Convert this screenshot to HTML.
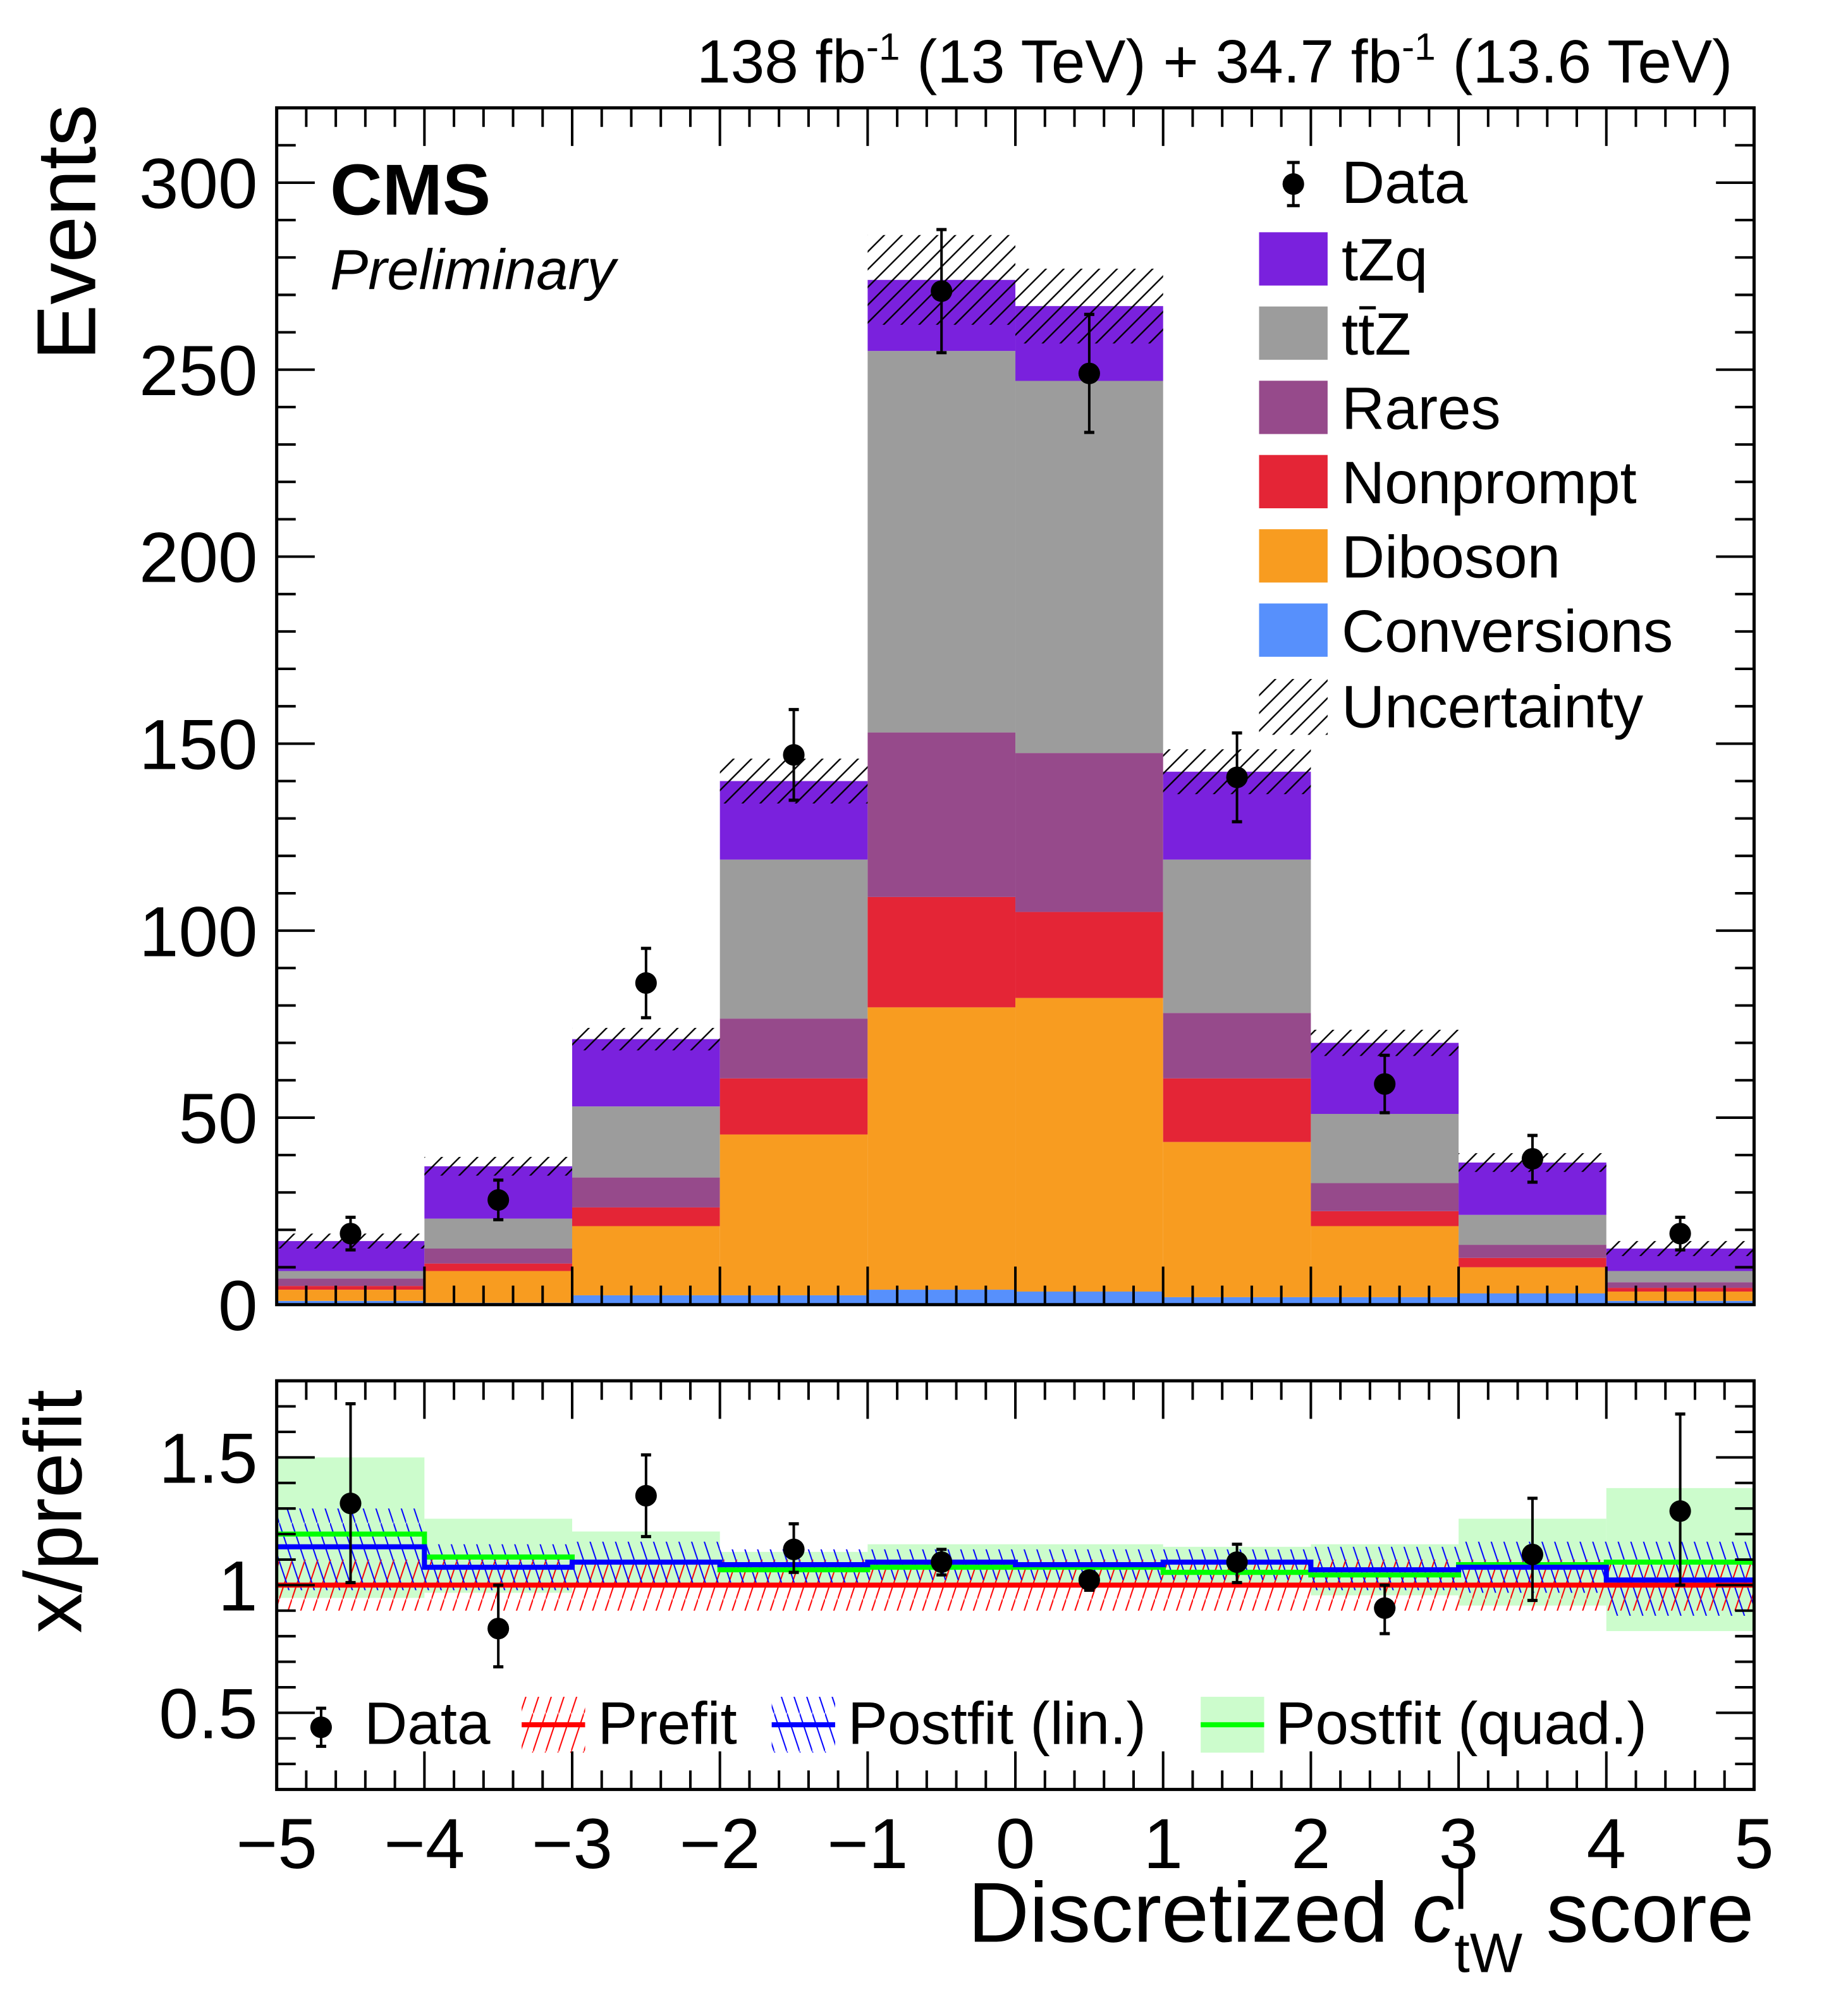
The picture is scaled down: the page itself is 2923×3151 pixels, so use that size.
<!DOCTYPE html>
<html><head><meta charset="utf-8"><style>
html,body{margin:0;padding:0;background:#fff}
svg{display:block}
text{font-family:"Liberation Sans",Arial,sans-serif;fill:#000}
</style></head><body>
<svg id="chart" xmlns="http://www.w3.org/2000/svg" width="2923" height="3151" viewBox="0 0 1456 1569.6" preserveAspectRatio="none">
<defs>
<pattern id="hatchBlack" patternUnits="userSpaceOnUse" width="14" height="14">
<path d="M-2,16 L16,-2 M-2,2 L2,-2 M12,16 L16,12" stroke="#000" stroke-width="1.2"/></pattern>
<pattern id="hatchRed" patternUnits="userSpaceOnUse" width="10" height="30">
<path d="M0,30 L10,0" stroke="#ff0000" stroke-width="1"/></pattern>
<pattern id="hatchBlue" patternUnits="userSpaceOnUse" width="10" height="30">
<path d="M0,0 L10,30" stroke="#0000ff" stroke-width="1"/></pattern>
</defs>
<g id="main"></g>
<g id="ratio"></g>
<text x="1365" y="65" font-size="48" text-anchor="end">138 fb<tspan dy="-18" font-size="30">-1</tspan><tspan dy="18"> (13 TeV) + 34.7 fb</tspan><tspan dy="-18" font-size="30">-1</tspan><tspan dy="18"> (13.6 TeV)</tspan></text>
<text x="260" y="169" font-size="57" font-weight="bold">CMS</text>
<text x="260" y="228" font-size="45" font-style="italic">Preliminary</text>
<text transform="translate(75,284) rotate(-90)" font-size="66">Events</text>
<text transform="translate(64,1287) rotate(-90)" font-size="64">x/prefit</text>
<text x="1382" y="1530" font-size="67" text-anchor="end">Discretized <tspan font-style="italic">c</tspan><tspan dy="-26" font-size="44">l</tspan><tspan dy="50" dx="-10" font-size="44">tW</tspan><tspan dy="-24"> score</tspan></text>
</svg>
<script>
const binEdges=[-5,-4,-3,-2,-1,0,1,2,3,4,5];
const conversions=[1,0.5,2.5,2.5,4,3.5,2,2,3,1];
const diboson=[3,8.5,18.5,43,75.5,78.5,41.5,19,7,2.5];
const nonprompt=[1,2,5,15,29.5,23,17,4,2.5,1];
const rares=[2,4,8,16,44,42.5,17.5,7.5,3.5,1.5];
const ttZ=[2,8,19,42.5,102,99.5,41,18.5,8,3];
const tZq=[8,14,18,21,19,20,23.5,19,14,6];
const totalUnc=[2,2.5,3,6,12,10,6,3.5,2.5,2];
const dataVals=[19,28,86,147,271,249,141,59,39,19];
const mainTicks=[0,50,100,150,200,250,300];
const xTicks=[-5,-4,-3,-2,-1,0,1,2,3,4,5];
const ratioData=[1.32,0.83,1.35,1.14,1.09,1.02,1.09,0.91,1.12,1.29];
const ratioDataUp=[1.71,1.0,1.51,1.24,1.14,1.05,1.16,1.0,1.34,1.67];
const ratioDataDn=[1.01,0.68,1.19,1.05,1.04,0.98,1.01,0.81,0.94,1.0];
const prefit=[1,1,1,1,1,1,1,1,1,1];
const prefitUnc=[0.1,0.1,0.1,0.1,0.1,0.1,0.1,0.1,0.1,0.1];
const postLin=[1.15,1.07,1.09,1.08,1.09,1.08,1.09,1.06,1.07,1.02];
const postLinUp=[1.3,1.16,1.17,1.14,1.14,1.14,1.14,1.15,1.17,1.17];
const postLinDn=[0.98,0.98,1.0,1.01,1.02,1.02,1.02,0.98,0.97,0.88];
const postQuad=[1.2,1.11,1.09,1.06,1.07,1.07,1.05,1.04,1.08,1.09];
const postQuadUp=[1.5,1.26,1.21,1.13,1.16,1.16,1.15,1.16,1.26,1.38];
const postQuadDn=[0.95,0.97,1.0,1.0,1.0,1.0,0.99,0.96,0.92,0.82];
const ratioTicks=[0.5,1,1.5];
const ratioTickLabels=["0.5","1","1.5"];

const NS="http://www.w3.org/2000/svg";
const X0=218,X1=1382;
const M={top:85,bot:1028,min:0,max:320};
const R={top:1088,bot:1410,min:0.2,max:1.8};
const sx=v=>X0+(v+5)/10*(X1-X0);
const sy=v=>M.bot-(v-M.min)/(M.max-M.min)*(M.bot-M.top);
const ry=v=>R.bot-(v-R.min)/(R.max-R.min)*(R.bot-R.top);
function mk(parent,tag,attrs){const e=document.createElementNS(NS,tag);for(const k in attrs)e.setAttribute(k,attrs[k]);parent.appendChild(e);return e;}
const main=document.getElementById('main');
const ratio=document.getElementById('ratio');

const comps=[[conversions,'#5790fc','conversions'],[diboson,'#f89c20','diboson'],[nonprompt,'#e42536','nonprompt'],[rares,'#964a8b','rares'],[ttZ,'#9c9c9c','ttz'],[tZq,'#7a21dd','tzq']];
for(let i=0;i<10;i++){
  let base=0;
  for(const [arr,col,nm] of comps){
    const r=mk(main,'rect',{x:sx(binEdges[i]),width:sx(binEdges[i+1])-sx(binEdges[i]),y:sy(base+arr[i]),height:sy(base)-sy(base+arr[i]),fill:col});
    
    
    base+=arr[i];
  }
  const u=mk(main,'rect',{x:sx(binEdges[i]),width:sx(binEdges[i+1])-sx(binEdges[i]),y:sy(base+totalUnc[i]),height:sy(base-totalUnc[i])-sy(base+totalUnc[i]),fill:'url(#hatchBlack)'});
  
  
}
for(let i=0;i<10;i++){
  const cx=sx((binEdges[i]+binEdges[i+1])/2),v=dataVals[i],e=Math.sqrt(v);
  const g=mk(main,'g',{});
  
  
  mk(g,'line',{x1:cx,x2:cx,y1:sy(v+e),y2:sy(v-e),stroke:'#000','stroke-width':2});
  mk(g,'line',{x1:cx-4,x2:cx+4,y1:sy(v+e),y2:sy(v+e),stroke:'#000','stroke-width':2.5});
  mk(g,'line',{x1:cx-4,x2:cx+4,y1:sy(v-e),y2:sy(v-e),stroke:'#000','stroke-width':2.5});
  mk(g,'circle',{cx:cx,cy:sy(v),r:8.5,fill:'#000'});
}
for(let i=0;i<10;i++){
  const x=sx(binEdges[i]),w=sx(binEdges[i+1])-x;
  const q=mk(ratio,'rect',{x:x,width:w,y:ry(postQuadUp[i]),height:ry(postQuadDn[i])-ry(postQuadUp[i]),fill:'#ccfccc'});
  
  
}
for(let i=0;i<10;i++){
  const x=sx(binEdges[i]),w=sx(binEdges[i+1])-x;
  const p=mk(ratio,'rect',{x:x,width:w,y:ry(prefit[i]+prefitUnc[i]),height:ry(prefit[i]-prefitUnc[i])-ry(prefit[i]+prefitUnc[i]),fill:'url(#hatchRed)'});
  
  
  const b=mk(ratio,'rect',{x:x,width:w,y:ry(postLinUp[i]),height:ry(postLinDn[i])-ry(postLinUp[i]),fill:'url(#hatchBlue)'});
  
  
}
function stepPath(arr){let d='';for(let i=0;i<10;i++){d+=(i?'L':'M')+sx(binEdges[i])+','+ry(arr[i])+'L'+sx(binEdges[i+1])+','+ry(arr[i]);}return d;}
const lq=mk(ratio,'path',{d:stepPath(postQuad),stroke:'#00ff00','stroke-width':4,fill:'none'});


const lp=mk(ratio,'path',{d:stepPath(prefit),stroke:'#ff0000','stroke-width':4,fill:'none'});


const ll=mk(ratio,'path',{d:stepPath(postLin),stroke:'#0000ff','stroke-width':4,fill:'none'});


for(let i=0;i<10;i++){
  const cx=sx((binEdges[i]+binEdges[i+1])/2);
  const g=mk(ratio,'g',{});
  
  
  mk(g,'line',{x1:cx,x2:cx,y1:ry(ratioDataUp[i]),y2:ry(ratioDataDn[i]),stroke:'#000','stroke-width':2});
  mk(g,'line',{x1:cx-4,x2:cx+4,y1:ry(ratioDataUp[i]),y2:ry(ratioDataUp[i]),stroke:'#000','stroke-width':2.5});
  mk(g,'line',{x1:cx-4,x2:cx+4,y1:ry(ratioDataDn[i]),y2:ry(ratioDataDn[i]),stroke:'#000','stroke-width':2.5});
  mk(g,'circle',{cx:cx,cy:ry(ratioData[i]),r:8.5,fill:'#000'});
}
function frame(parent,top,bot,name){
  const f=mk(parent,'rect',{x:X0,y:top,width:X1-X0,height:bot-top,fill:'none',stroke:'#000','stroke-width':2.5});
  
  
  for(let k=0;k<=50;k++){
    const v=-5+k*0.2,x=sx(v),len=(k%5===0)?30:15;
    mk(parent,'line',{x1:x,x2:x,y1:bot,y2:bot-len,stroke:'#000','stroke-width':2});
    mk(parent,'line',{x1:x,x2:x,y1:top,y2:top+len,stroke:'#000','stroke-width':2});
  }
}
frame(main,M.top,M.bot,'main-frame');
frame(ratio,R.top,R.bot,'ratio-frame');
for(let v=0;v<=320;v+=10){
  const y=sy(v),len=(v%50===0)?30:15;
  mk(main,'line',{x1:X0,x2:X0+len,y1:y,y2:y,stroke:'#000','stroke-width':2});
  mk(main,'line',{x1:X1,x2:X1-len,y1:y,y2:y,stroke:'#000','stroke-width':2});
}
for(let k=2;k<=18;k++){
  const v=k/10,y=ry(v),len=(k%5===0)?30:15;
  mk(ratio,'line',{x1:X0,x2:X0+len,y1:y,y2:y,stroke:'#000','stroke-width':2});
  mk(ratio,'line',{x1:X1,x2:X1-len,y1:y,y2:y,stroke:'#000','stroke-width':2});
}
for(const v of mainTicks){
  const t=mk(main,'text',{x:203,y:sy(v)+20,'font-size':56,'text-anchor':'end'});
  t.textContent=String(v);
  
  
}
ratioTicks.forEach((v,i)=>{
  const t=mk(ratio,'text',{x:203,y:ry(v)+20,'font-size':56,'text-anchor':'end'});
  t.textContent=ratioTickLabels[i];
  
  
});
for(const v of xTicks){
  const t=mk(ratio,'text',{x:sx(v),y:1472,'font-size':56,'text-anchor':'middle'});
  t.textContent=(v<0?'\u2212'+(-v):String(v));
  
  
}
const legItems=[['tZq','#7a21dd'],['ttZ','#9c9c9c'],['Rares','#964a8b'],['Nonprompt','#e42536'],['Diboson','#f89c20'],['Conversions','#5790fc']];
{
  const g=mk(main,'g',{});
  
  
  mk(g,'line',{x1:1019,x2:1019,y1:128,y2:162,stroke:'#000','stroke-width':2});
  mk(g,'line',{x1:1014,x2:1024,y1:128,y2:128,stroke:'#000','stroke-width':2.5});
  mk(g,'line',{x1:1014,x2:1024,y1:162,y2:162,stroke:'#000','stroke-width':2.5});
  mk(g,'circle',{cx:1019,cy:145,r:8.5,fill:'#000'});
  const t=mk(g,'text',{x:1057,y:160,'font-size':47});t.textContent='Data';
}
legItems.forEach((it,i)=>{
  const y=183+i*58.5;
  const g=mk(main,'g',{});
  
  
  mk(g,'rect',{x:992,y:y,width:54,height:42,fill:it[1]});
  const t=mk(g,'text',{x:1057,y:y+38,'font-size':47});
  t.textContent=it[0];
  if(it[0]==='ttZ'){
    mk(g,'line',{x1:1071,x2:1084,y1:y+1,y2:y+1,stroke:'#000','stroke-width':2.5});
  }
});
{
  const g=mk(main,'g',{});
  
  
  mk(g,'rect',{x:992,y:535,width:54,height:44,fill:'url(#hatchBlack)'});
  const t=mk(g,'text',{x:1057,y:573,'font-size':47});t.textContent='Uncertainty';
}
{
  const y=1358;
  let g=mk(ratio,'g',{});
  
  
  mk(g,'line',{x1:253,x2:253,y1:1346,y2:1376,stroke:'#000','stroke-width':2});
  mk(g,'line',{x1:249,x2:257,y1:1346,y2:1346,stroke:'#000','stroke-width':2.5});
  mk(g,'line',{x1:249,x2:257,y1:1376,y2:1376,stroke:'#000','stroke-width':2.5});
  mk(g,'circle',{cx:253,cy:1361,r:8.5,fill:'#000'});
  let t=mk(g,'text',{x:287,y:y+16,'font-size':47});t.textContent='Data';
  g=mk(ratio,'g',{});
  
  
  mk(g,'rect',{x:411,y:1337,width:50,height:44,fill:'url(#hatchRed)'});
  mk(g,'line',{x1:411,x2:461,y1:1359,y2:1359,stroke:'#ff0000','stroke-width':4});
  t=mk(g,'text',{x:471,y:y+16,'font-size':47});t.textContent='Prefit';
  g=mk(ratio,'g',{});
  
  
  mk(g,'rect',{x:608,y:1337,width:50,height:44,fill:'url(#hatchBlue)'});
  mk(g,'line',{x1:608,x2:658,y1:1359,y2:1359,stroke:'#0000ff','stroke-width':4});
  t=mk(g,'text',{x:668,y:y+16,'font-size':47});t.textContent='Postfit (lin.)';
  g=mk(ratio,'g',{});
  
  
  mk(g,'rect',{x:946,y:1337,width:50,height:44,fill:'#ccfccc'});
  mk(g,'line',{x1:946,x2:996,y1:1359,y2:1359,stroke:'#00ff00','stroke-width':4});
  t=mk(g,'text',{x:1005,y:y+16,'font-size':47});t.textContent='Postfit (quad.)';
}
</script>
</body></html>
